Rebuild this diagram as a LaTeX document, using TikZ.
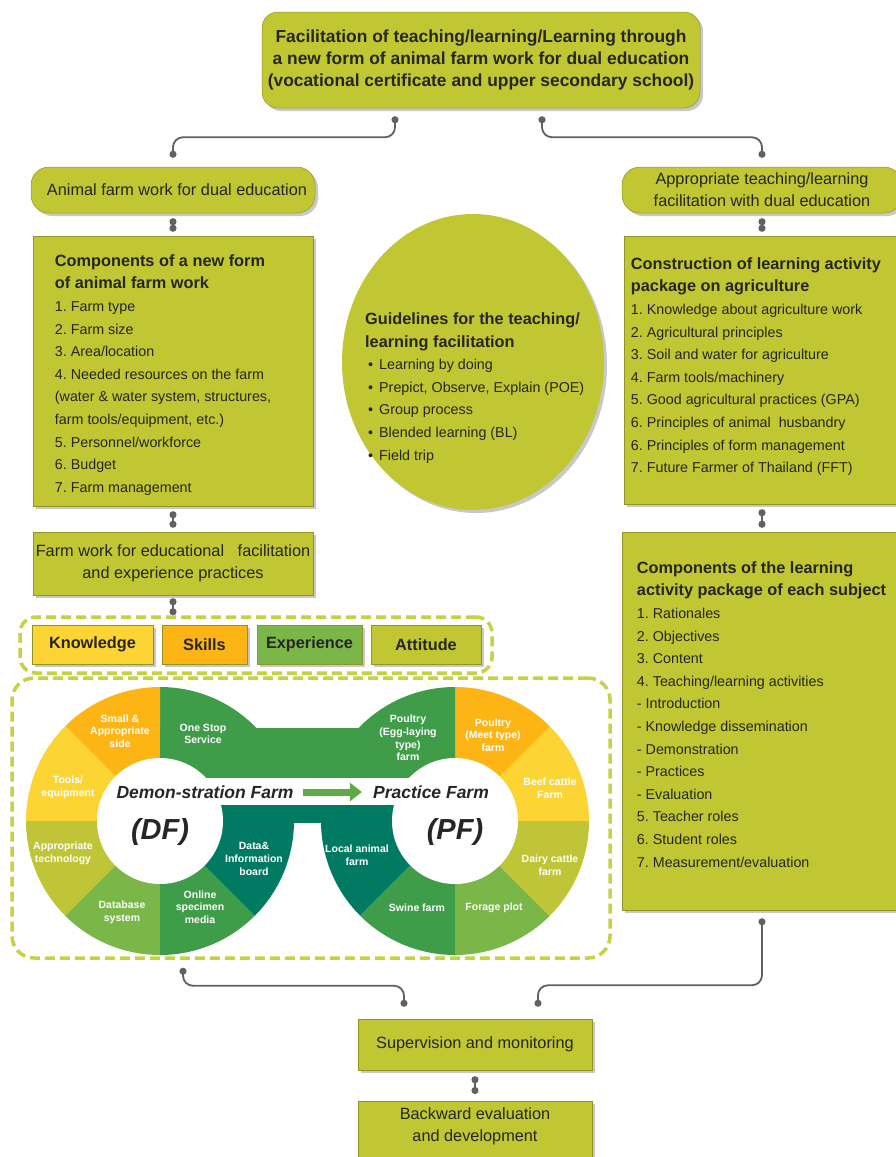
\documentclass[tikz,border=0pt]{standalone}
\usepackage{fontspec}
\setmainfont{Liberation Sans}
\usetikzlibrary{positioning,shapes.geometric,shadows,arrows.meta}

\definecolor{boxolive}{HTML}{C1C732}
\definecolor{textdark}{HTML}{262626}
\definecolor{frameolive}{HTML}{C6D143}
\definecolor{linkgray}{HTML}{616161}
\definecolor{farmorange}{HTML}{FDB515}
\definecolor{farmyellow}{HTML}{FCD535}
\definecolor{farmolive}{HTML}{BFC537}
\definecolor{farmlight}{HTML}{7AB648}
\definecolor{farmgreen}{HTML}{3F9C48}
\definecolor{farmteal}{HTML}{007A62}
\definecolor{arrowgreen}{HTML}{5EAA46}

\newcommand\headsize{\fontsize{16.3}{22}\selectfont}
\newcommand\listsize{\fontsize{14.3}{22.6}\selectfont\frenchspacing}
\newcommand\subhead{\bfseries\fontsize{16.3}{22.6}\selectfont}

\tikzset{
  box/.style={rectangle, fill=boxolive, draw=black!25!boxolive, line width=0.5pt, inner sep=0pt,
    text=textdark, align=center, font=\headsize,
    drop shadow={shadow xshift=3pt, shadow yshift=-3pt, opacity=0.3, fill=black!70}},
  roundbox/.style={box, rounded corners=16pt},
  skillbox/.style={box, minimum height=39pt, font=\bfseries\headsize},
  headtext/.style={inner sep=0pt, align=center, text=textdark, font=\headsize},
  listtext/.style={anchor=north west, inner sep=0pt, align=left, text=textdark, font=\listsize},
  dashframe/.style={draw=frameolive, line width=3.5pt, dash pattern=on 10pt off 5pt, rounded corners=16pt, inner sep=0pt},
  ringtext/.style={inner sep=0pt, align=center, text=white, font=\bfseries\fontsize{10.5}{12.7}\selectfont},
  farmname/.style={inner sep=0pt, text=black!85, font=\bfseries\itshape\fontsize{17.5}{20}\selectfont},
  farmabbr/.style={inner sep=0pt, text=black!85, font=\bfseries\itshape\fontsize{29}{30}\selectfont},
  link/.style={draw=linkgray, line width=1.8pt, rounded corners=10pt, {Circle[length=7pt]}-{Circle[length=7pt]}},
  dumb/.style={draw=linkgray, line width=2.2pt, {Circle[length=7pt]}-{Circle[length=7pt]}}
}

\begin{document}
\begin{tikzpicture}[x=1pt,y=-1pt]
\path[use as bounding box, fill=white] (0,0) rectangle (896,1157);

\node[roundbox, minimum width=438pt, minimum height=96pt, font=\bfseries\fontsize{17.4}{22}\selectfont] (top) at (481,60)
  {Facilitation of teaching/learning/Learning through\\a new form of animal farm work for dual education\\(vocational certificate and upper secondary school)};

\node[roundbox, rounded corners=18pt, minimum width=284pt, minimum height=46pt] (afw) at (173,190) {\hspace*{8pt}Animal farm work for dual education};
\node[roundbox, rounded corners=18pt, minimum width=280pt, minimum height=46pt] (atl) at (762,190) {Appropriate teaching/learning\\facilitation with dual education};

\node[box, minimum width=280pt, minimum height=270pt] (cnw) at (173,371) {};
\node[listtext] (cnwtext) at ([xshift=22pt,yshift=-18.5pt]cnw.north west)
  {{\subhead Components of a new form}\\{\subhead of animal farm work}\\1. Farm type\\2. Farm size\\3. Area/location\\4. Needed resources on the farm\\(water \& water system, structures,\\farm tools/equipment, etc.)\\5. Personnel/workforce\\6. Budget\\7. Farm management};

\node[box, minimum width=280pt, minimum height=63pt] (fwe) at (173,563.5) {Farm work for educational\ \ \ facilitation\\and experience practices};

\node[ellipse, fill=boxolive, minimum width=262pt, minimum height=296pt, inner sep=0pt,
  drop shadow={shadow xshift=3pt, shadow yshift=-3pt, opacity=0.3, fill=black!70}] (guide) at (473,362) {};
\node[listtext] (guidetext) at (365,312.5)
  {{\subhead Guidelines for the teaching/}\\{\subhead learning facilitation}\\
   \hspace*{3pt}\makebox[11pt][l]{•}Learning by doing\\
   \hspace*{3pt}\makebox[11pt][l]{•}Prepict, Observe, Explain (POE)\\
   \hspace*{3pt}\makebox[11pt][l]{•}Group process\\
   \hspace*{3pt}\makebox[11pt][l]{•}Blended learning (BL)\\
   \hspace*{3pt}\makebox[11pt][l]{•}Field trip};

\node[box, minimum width=276pt, minimum height=268pt] (clp) at (762,370) {};
\node[listtext] (clptext) at ([xshift=7pt,yshift=-21.5pt]clp.north west)
  {{\subhead Construction of learning activity}\\{\subhead package on agriculture}\\1. Knowledge about agriculture work\\2. Agricultural principles\\3. Soil and water for agriculture\\4. Farm tools/machinery\\5. Good agricultural practices (GPA)\\6. Principles of animal\ \ husbandry\\6. Principles of form management\\7. Future Farmer of Thailand (FFT)};

\node[box, minimum width=280pt, minimum height=378pt] (cpk) at (762,721) {};
\node[listtext] (cpktext) at ([xshift=15pt,yshift=-29.5pt]cpk.north west)
  {{\subhead Components of the learning}\\{\subhead activity package of each subject}\\1. Rationales\\2. Objectives\\3. Content\\4. Teaching/learning activities\\- Introduction\\- Knowledge dissemination\\- Demonstration\\- Practices\\- Evaluation\\5. Teacher roles\\6. Student roles\\7. Measurement/evaluation};

\node[dashframe, minimum width=472pt, minimum height=56pt] (ksea) at (256,645) {};
\node[skillbox, fill=farmyellow, minimum width=121pt] (know) at (92.5,644.5) {Knowledge};
\node[skillbox, fill=farmorange, minimum width=85pt] (skill) at (204.5,644.5) {Skills};
\node[skillbox, fill=farmlight, minimum width=105pt] (expe) at (309.5,644.5) {Experience};
\node[skillbox, minimum width=110pt] (atti) at (426,644.5) {Attitude};

\node[dashframe, rounded corners=22pt, minimum width=598pt, minimum height=280pt] (farmframe) at (311,818) {};

\coordinate (dfc) at (160,821);
\coordinate (pfc) at (455,821);
\foreach \a/\b/\col in {0/90/farmgreen, 90/135/farmorange, 135/180/farmyellow, 180/225/farmolive,
    225/270/farmlight, 270/315/farmgreen, 315/360/farmteal}
  \fill[\col] (dfc) -- ++(\a:134pt) arc[start angle=\a, end angle=\b, radius=134pt] -- cycle;
\foreach \a/\b/\col in {0/45/farmyellow, 45/90/farmorange, 90/180/farmgreen, 180/225/farmteal,
    225/270/farmgreen, 270/315/farmlight, 315/360/farmolive}
  \fill[\col] (pfc) -- ++(\a:134pt) arc[start angle=\a, end angle=\b, radius=134pt] -- cycle;
\fill[farmgreen] (160,728) rectangle (455,778);
\fill[farmteal] (160,805) rectangle (455,823);
\fill[white] (160,778) rectangle (455,805);
\fill[white] (dfc) circle[radius=63pt];
\fill[white] (pfc) circle[radius=63pt];

\node[ringtext] (dfsmall) at (120,731) {Small \&\\Appropriate\\side};
\node[ringtext] (dftools) at (68,787) {Tools/\\equipment};
\node[ringtext] (dftech) at (63,853) {Appropriate\\technology};
\node[ringtext] (dfdata) at (122,912) {Database\\system};
\node[ringtext] (dfonline) at (200,907) {Online\\specimen\\media};
\node[ringtext] (dfboard) at (254,859) {Data\&\\Information\\board};
\node[ringtext] (dfstop) at (203,734) {One Stop\\Service};
\node[ringtext] (pfegg) at (408,738) {Poultry\\(Egg-laying\\type)\\farm};
\node[ringtext] (pfmeet) at (493,735) {Poultry\\(Meet type)\\farm};
\node[ringtext] (pfbeef) at (550,788) {Beef cattle\\Farm};
\node[ringtext] (pfdairy) at (550,865) {Dairy cattle\\farm};
\node[ringtext] (pfforage) at (494,908) {Forage plot};
\node[ringtext] (pfswine) at (417,908) {Swine farm};
\node[ringtext] (pflocal) at (357,855) {Local animal\\farm};

\node[farmname] (dfname) at (205,792) {Demon-stration Farm};
\node[farmabbr] (dfabbr) at (160,832) {(DF)};
\node[farmname] (pfname) at (431,792) {Practice Farm};
\node[farmabbr] (pfabbr) at (455,832) {(PF)};
\draw[arrowgreen, line width=7pt, shorten <=9pt, shorten >=11pt, -{Triangle[width=18pt,length=12pt]}] (dfname) -- (pfname);

\node[box, minimum width=234pt, minimum height=51pt] (sup) at (475,1044.5) {Supervision and monitoring};
\node[box, minimum width=234pt, minimum height=60pt, anchor=north] (bed) at (475,1101) {};
\node[headtext, below=6pt of bed.north] (bedtext) {Backward evaluation\\and development};

\draw[link] ([xshift=-86pt,yshift=-8pt]top.south) -- ++(0,21) -| ([yshift=9pt]afw.north);
\draw[link] ([xshift=61pt,yshift=-8pt]top.south) -- ++(0,21) -| ([yshift=9pt]atl.north);
\draw[dumb] ([yshift=-5pt]afw.south) -- ([yshift=4pt]cnw.north);
\draw[dumb] ([yshift=-5pt]cnw.south) -- ([yshift=4pt]fwe.north);
\coordinate (kseatop) at (fwe.south |- ksea.north);
\draw[dumb] ([yshift=-3pt]fwe.south) -- (kseatop);
\draw[dumb] ([yshift=-5pt]atl.south) -- ([yshift=4pt]clp.north);
\draw[dumb] ([yshift=-5pt]clp.south) -- ([yshift=4pt]cpk.north);
\draw[link] ([xshift=-128pt,yshift=-8pt]farmframe.south) -- ++(0,18) -| ([xshift=-71pt,yshift=12pt]sup.north);
\draw[link] ([yshift=-8pt]cpk.south) -- ++(0,67) -| ([xshift=63pt,yshift=12pt]sup.north);
\draw[dumb] ([yshift=-6pt]sup.south) -- ([yshift=7pt]bed.north);
\end{tikzpicture}
\end{document}
